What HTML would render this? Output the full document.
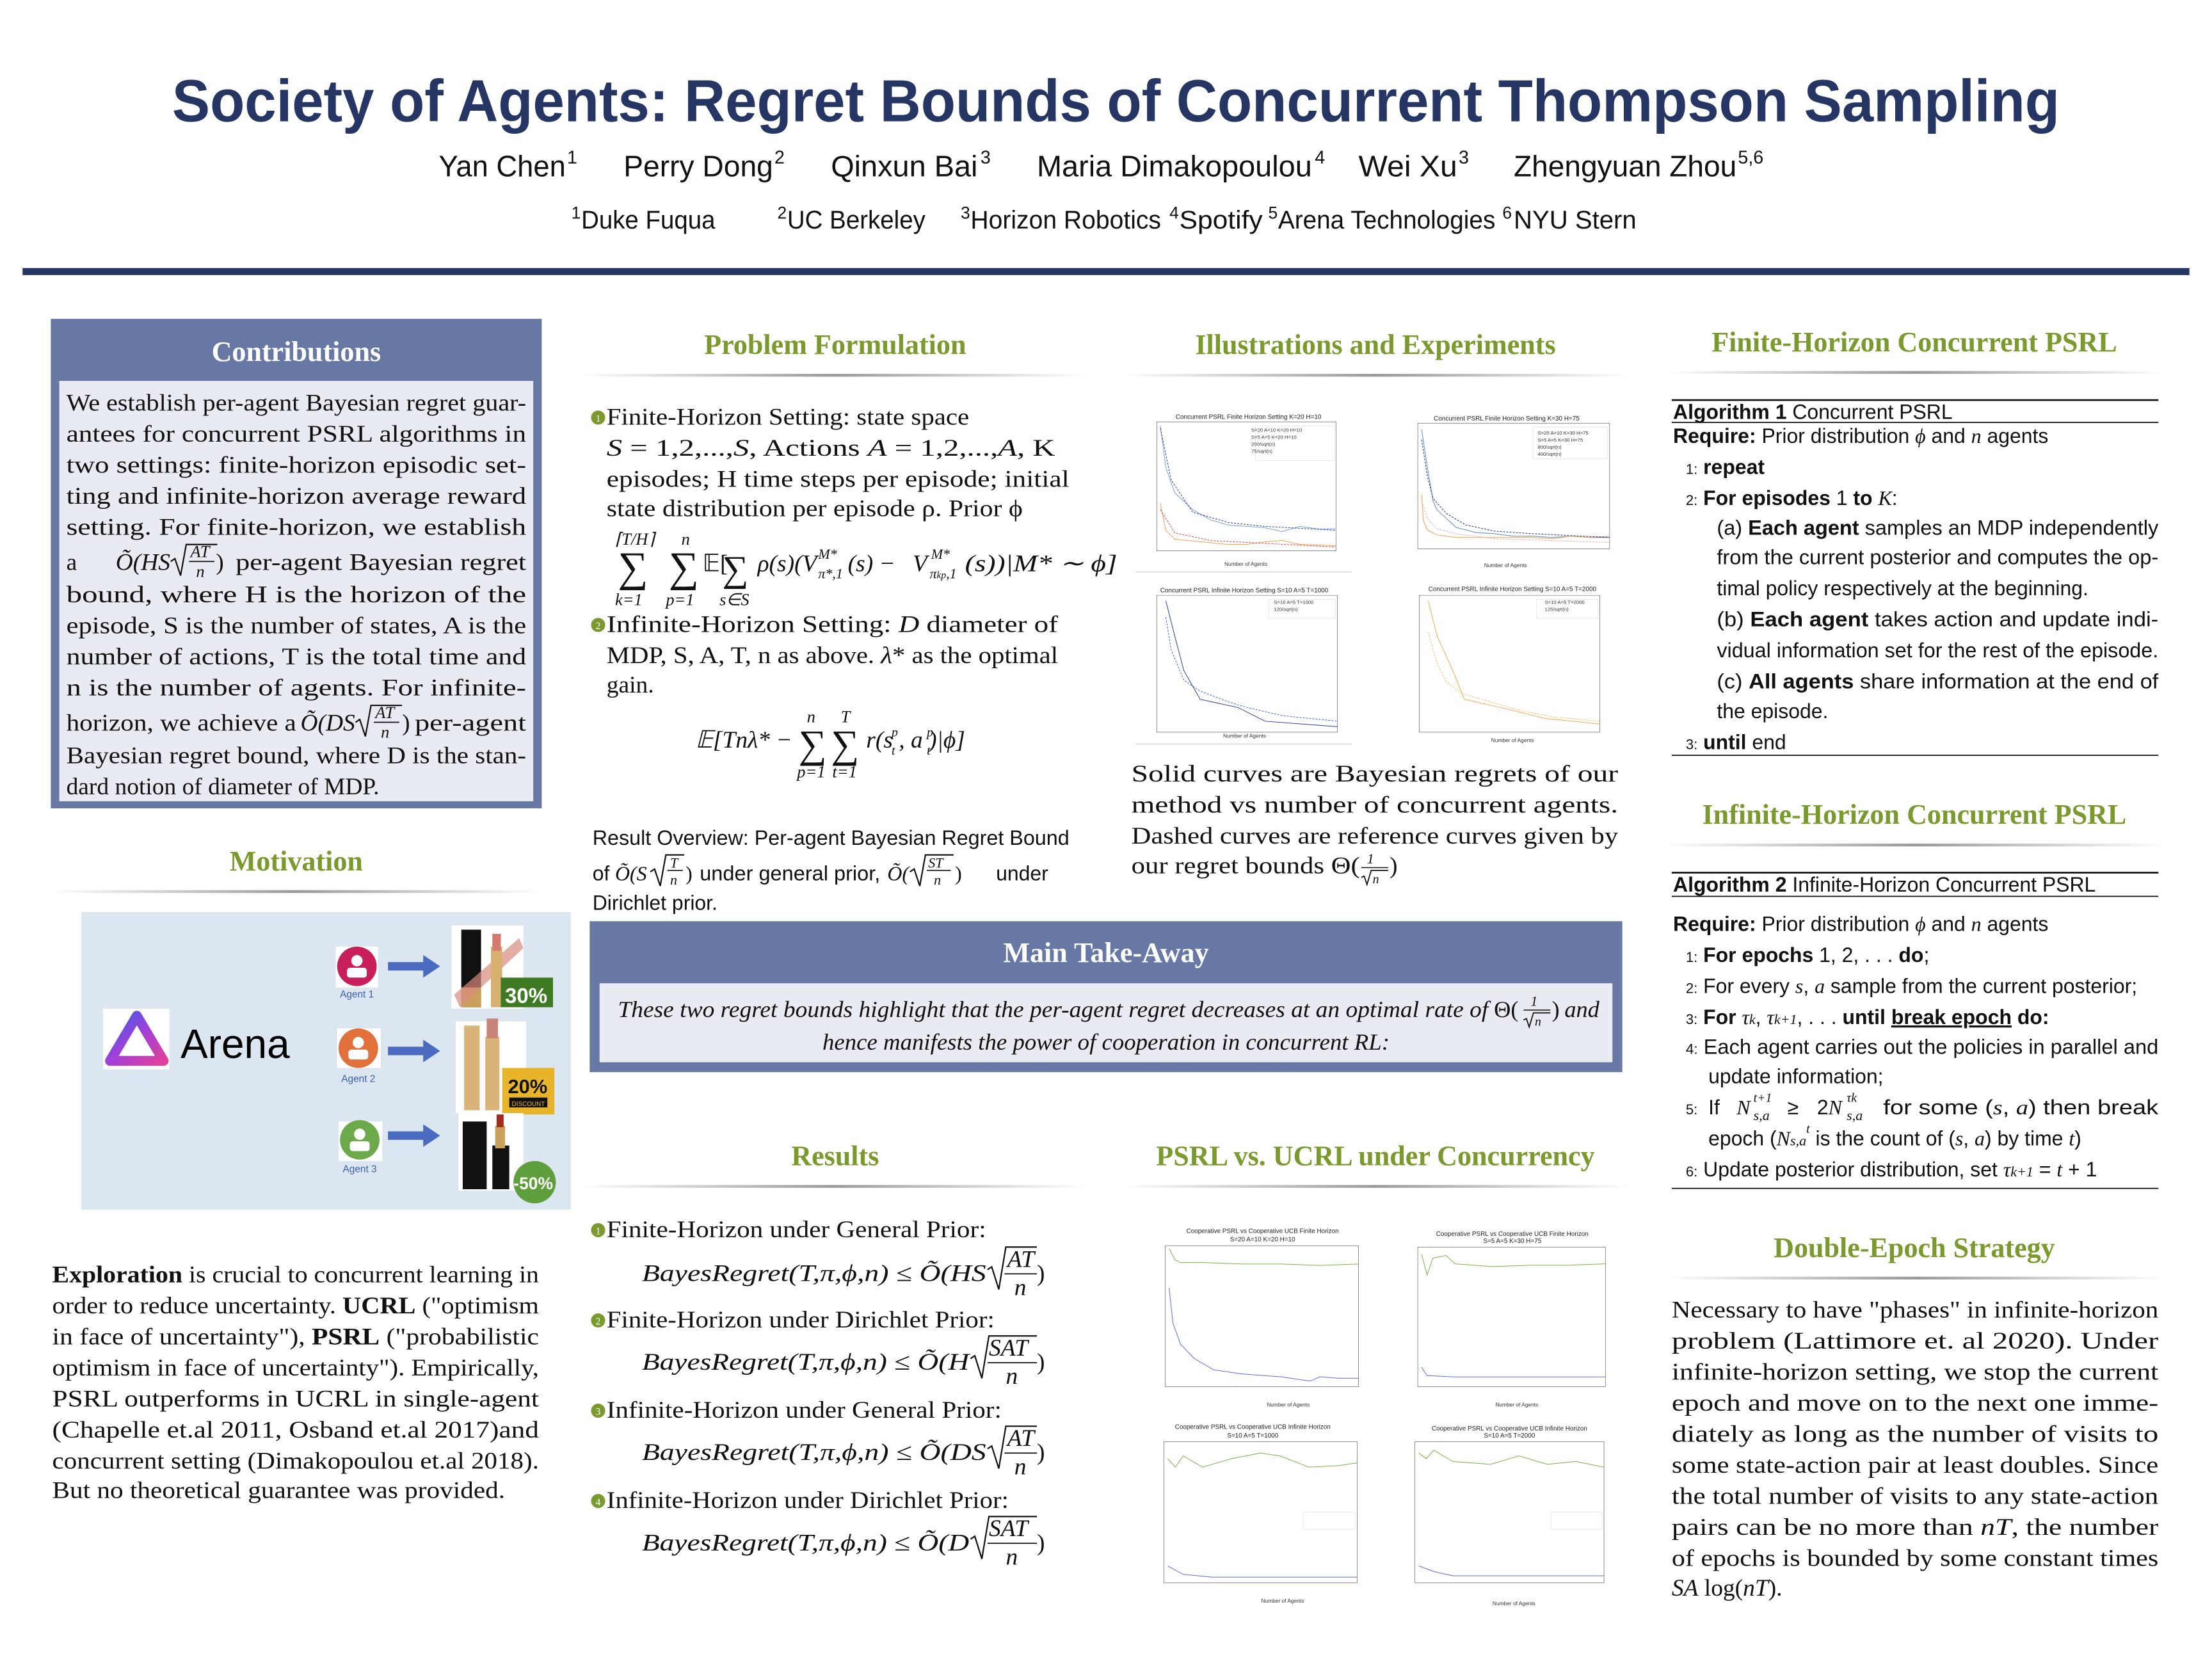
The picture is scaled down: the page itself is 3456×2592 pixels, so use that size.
<!DOCTYPE html>
<html><head><meta charset="utf-8"><style>
html,body{margin:0;padding:0;background:#fff}
svg{display:block}
.se{font-family:"Liberation Serif",serif;fill:#111}
.sa{font-family:"Liberation Sans","DejaVu Sans",sans-serif;fill:#111}
.h{font-family:"Liberation Serif",serif;font-weight:bold;fill:#7a9a2e;font-size:20px}
.w{font-family:"Liberation Serif",serif;font-weight:bold;fill:#fff;font-size:20px}
.ln{vector-effect:non-scaling-stroke;fill:none}
</style></head><body>
<svg width="3456" height="2592" viewBox="0 0 1568 1176" xmlns="http://www.w3.org/2000/svg">
<defs>
<linearGradient id="hl" x1="0" x2="1" y1="0" y2="0">
<stop offset="0" stop-color="#fff"/><stop offset="0.5" stop-color="#999"/><stop offset="1" stop-color="#fff"/></linearGradient>
<linearGradient id="ar" x1="0" x2="1" y1="0" y2="1">
<stop offset="0" stop-color="#3a5ee8"/><stop offset="0.5" stop-color="#a23fd8"/><stop offset="1" stop-color="#e0409a"/></linearGradient>
</defs>

<!-- Header -->
<text x="122" y="86" textLength="1338" lengthAdjust="spacingAndGlyphs" font-family="Liberation Sans, sans-serif" font-weight="bold" font-size="42" fill="#253564">Society of Agents: Regret Bounds of Concurrent Thompson Sampling</text>
<g class="sa" font-size="21">
<text x="311" y="125" textLength="90" lengthAdjust="spacingAndGlyphs">Yan Chen</text><text x="402" y="116" font-size="13">1</text>
<text x="442" y="125" textLength="106" lengthAdjust="spacingAndGlyphs">Perry Dong</text><text x="549" y="116" font-size="13">2</text>
<text x="589" y="125" textLength="104" lengthAdjust="spacingAndGlyphs">Qinxun Bai</text><text x="695" y="116" font-size="13">3</text>
<text x="735" y="125" textLength="195" lengthAdjust="spacingAndGlyphs">Maria Dimakopoulou</text><text x="932" y="116" font-size="13">4</text>
<text x="963" y="125" textLength="70" lengthAdjust="spacingAndGlyphs">Wei Xu</text><text x="1034" y="116" font-size="13">3</text>
<text x="1073" y="125" textLength="158" lengthAdjust="spacingAndGlyphs">Zhengyuan Zhou</text><text x="1232" y="116" font-size="13">5,6</text>
</g>
<g class="sa" font-size="18">
<text x="405" y="155" font-size="12">1</text><text x="412" y="162" textLength="95" lengthAdjust="spacingAndGlyphs">Duke Fuqua</text>
<text x="551" y="155" font-size="12">2</text><text x="558" y="162" textLength="98" lengthAdjust="spacingAndGlyphs">UC Berkeley</text>
<text x="681" y="155" font-size="12">3</text><text x="688" y="162" textLength="135" lengthAdjust="spacingAndGlyphs">Horizon Robotics</text>
<text x="829" y="155" font-size="12">4</text><text x="836" y="162" textLength="59" lengthAdjust="spacingAndGlyphs">Spotify</text>
<text x="899" y="155" font-size="12">5</text><text x="906" y="162" textLength="154" lengthAdjust="spacingAndGlyphs">Arena Technologies</text>
<text x="1065" y="155" font-size="12">6</text><text x="1073" y="162" textLength="87" lengthAdjust="spacingAndGlyphs">NYU Stern</text>
</g>
<rect x="16" y="190" width="1536" height="5" fill="#253564"/>

<!-- Contributions -->
<rect x="36" y="226" width="348" height="347" fill="#6878a4"/>
<text x="210" y="256" text-anchor="middle" class="w">Contributions</text>
<rect x="42" y="270" width="336" height="298" fill="#e8ebf2"/>
<g class="se" font-size="17">
<text x="47" y="291" textLength="326" lengthAdjust="spacingAndGlyphs">We establish per-agent Bayesian regret guar-</text>
<text x="47" y="313" textLength="326" lengthAdjust="spacingAndGlyphs">antees for concurrent PSRL algorithms in</text>
<text x="47" y="335" textLength="326" lengthAdjust="spacingAndGlyphs">two settings:  finite-horizon episodic set-</text>
<text x="47" y="357" textLength="326" lengthAdjust="spacingAndGlyphs">ting and infinite-horizon average reward</text>
<text x="47" y="379" textLength="326" lengthAdjust="spacingAndGlyphs">setting.  For finite-horizon, we establish</text>
<text x="47" y="404">a</text>
<text x="82" y="404" font-style="italic">Õ(HS</text>
<path d="M121,398 l3,-2 l4,12 l4,-22 h22" stroke="#111" stroke-width="1" fill="none"/>
<text x="135" y="395" font-size="12" font-style="italic">AT</text>
<line x1="134" y1="398" x2="152" y2="398" stroke="#111" stroke-width="0.8"/>
<text x="139" y="409" font-size="12" font-style="italic">n</text>
<text x="153" y="404">)</text>
<text x="167" y="404" textLength="206" lengthAdjust="spacingAndGlyphs">per-agent  Bayesian  regret</text>
<text x="47" y="427" textLength="326" lengthAdjust="spacingAndGlyphs">bound,  where  H  is  the  horizon  of  the</text>
<text x="47" y="449" textLength="326" lengthAdjust="spacingAndGlyphs">episode, S is the number of states, A is the</text>
<text x="47" y="471" textLength="326" lengthAdjust="spacingAndGlyphs">number of actions, T is the total time and</text>
<text x="47" y="493" textLength="326" lengthAdjust="spacingAndGlyphs">n is the number of agents.  For infinite-</text>
<text x="47" y="518" textLength="163" lengthAdjust="spacingAndGlyphs">horizon, we achieve a</text>
<text x="213" y="518" font-style="italic">Õ(DS</text>
<path d="M252,512 l3,-2 l4,12 l4,-22 h22" stroke="#111" stroke-width="1" fill="none"/>
<text x="266" y="509" font-size="12" font-style="italic">AT</text>
<line x1="265" y1="512" x2="283" y2="512" stroke="#111" stroke-width="0.8"/>
<text x="270" y="523" font-size="12" font-style="italic">n</text>
<text x="285" y="518">)</text>
<text x="294" y="518" textLength="79" lengthAdjust="spacingAndGlyphs">per-agent</text>
<text x="47" y="541" textLength="326" lengthAdjust="spacingAndGlyphs">Bayesian regret bound, where D is the stan-</text>
<text x="47" y="563">dard notion of diameter of MDP.</text>
</g>

<!-- Motivation -->
<text x="210" y="617" text-anchor="middle" class="h">Motivation</text>
<rect x="36" y="631" width="348" height="2" fill="url(#hl)"/>
<rect x="57.6" y="646.5" width="347" height="211" fill="#dce6f0"/>
<rect x="73" y="715" width="47" height="43" fill="#fff"/>
<path d="M97,720 L116,752 L78,752 Z" fill="none" stroke="url(#ar)" stroke-width="7" stroke-linejoin="round"/>
<text x="128" y="750" font-family="Liberation Sans, sans-serif" font-size="29" fill="#000">Arena</text>
<g>
<rect x="238" y="671" width="30" height="29" fill="#fff"/><circle cx="253" cy="685" r="14" fill="#c81e5a"/>
<circle cx="253" cy="681" r="4" fill="#fff"/><rect x="246" y="686" width="14" height="7" rx="2" fill="#fff"/>
<text x="253" y="707" text-anchor="middle" font-family="Liberation Sans,sans-serif" font-size="7" fill="#3a5fb0">Agent 1</text>
<path d="M275,682 h25 v-5 l12,8 l-12,8 v-5 h-25z" fill="#4a6bbf"/>
<rect x="239" y="729" width="31" height="28" fill="#fff"/><circle cx="254" cy="743" r="14" fill="#e2703a"/>
<circle cx="254" cy="739" r="4" fill="#fff"/><rect x="247" y="744" width="14" height="7" rx="2" fill="#fff"/>
<text x="254" y="767" text-anchor="middle" font-family="Liberation Sans,sans-serif" font-size="7" fill="#3a5fb0">Agent 2</text>
<path d="M275,742 h25 v-5 l12,8 l-12,8 v-5 h-25z" fill="#4a6bbf"/>
<rect x="240" y="795" width="31" height="28" fill="#fff"/><circle cx="255" cy="808" r="14" fill="#6ca94a"/>
<circle cx="255" cy="804" r="4" fill="#fff"/><rect x="248" y="809" width="14" height="7" rx="2" fill="#fff"/>
<text x="255" y="831" text-anchor="middle" font-family="Liberation Sans,sans-serif" font-size="7" fill="#3a5fb0">Agent 3</text>
<path d="M275,802 h25 v-5 l12,8 l-12,8 v-5 h-25z" fill="#4a6bbf"/>
<rect x="320" y="656" width="51" height="59" fill="#fff"/>
<rect x="327" y="659" width="14" height="55" fill="#111"/><rect x="327" y="700" width="14" height="14" fill="#c9a15a"/>
<path d="M322,705 L368,665 L371,672 L326,714Z" fill="#d88a7e" opacity="0.7"/>
<rect x="348" y="671" width="8" height="43" fill="#d8b070"/><rect x="349" y="662" width="6" height="12" fill="#d57a6c"/>
<rect x="355" y="693" width="37" height="21" fill="#3d7a22"/>
<text x="373" y="711" text-anchor="middle" font-family="Liberation Sans,sans-serif" font-weight="bold" font-size="15" fill="#fff">30%</text>
<rect x="323" y="724" width="50" height="65" fill="#fff"/>
<rect x="329" y="727" width="11" height="60" fill="#d9b47a"/><rect x="344" y="735" width="10" height="52" fill="#d9b47a"/><rect x="345" y="722" width="8" height="14" fill="#c98378"/>
<rect x="356" y="757" width="37" height="33" fill="#e8b52a"/>
<text x="374" y="775" text-anchor="middle" font-family="Liberation Sans,sans-serif" font-weight="bold" font-size="14" fill="#111">20%</text>
<rect x="361" y="778" width="27" height="7" fill="#111"/>
<text x="374.5" y="784" text-anchor="middle" font-family="Liberation Sans,sans-serif" font-size="4.5" fill="#e8b52a">DISCOUNT</text>
<rect x="325" y="789" width="46" height="55" fill="#fff"/>
<rect x="328" y="795" width="17" height="48" fill="#111"/><rect x="349" y="812" width="12" height="31" fill="#111"/><rect x="351" y="798" width="7" height="16" fill="#c9a15a"/><rect x="352" y="790" width="5" height="9" fill="#a22a1e"/>
<circle cx="379" cy="838" r="15" fill="#5e9e3c"/>
<text x="378" y="843" text-anchor="middle" font-family="Liberation Sans,sans-serif" font-weight="bold" font-size="12" fill="#fff">-50%</text>
</g>
<g class="se" font-size="17">
<text x="37" y="909" textLength="345" lengthAdjust="spacingAndGlyphs"><tspan font-weight="bold">Exploration</tspan> is crucial to concurrent learning in</text>
<text x="37" y="931" textLength="345" lengthAdjust="spacingAndGlyphs">order to reduce uncertainty. <tspan font-weight="bold">UCRL</tspan> ("optimism</text>
<text x="37" y="953" textLength="345" lengthAdjust="spacingAndGlyphs">in face of uncertainty"), <tspan font-weight="bold">PSRL</tspan> ("probabilistic</text>
<text x="37" y="975" textLength="345" lengthAdjust="spacingAndGlyphs">optimism in face of uncertainty"). Empirically,</text>
<text x="37" y="997" textLength="345" lengthAdjust="spacingAndGlyphs">PSRL outperforms in UCRL in single-agent</text>
<text x="37" y="1019" textLength="345" lengthAdjust="spacingAndGlyphs">(Chapelle et.al 2011, Osband et.al 2017)and</text>
<text x="37" y="1041" textLength="345" lengthAdjust="spacingAndGlyphs">concurrent setting (Dimakopoulou et.al 2018).</text>
<text x="37" y="1062" textLength="321" lengthAdjust="spacingAndGlyphs">But no theoretical guarantee was provided.</text>
</g>

<!-- Problem Formulation -->
<text x="592" y="251" text-anchor="middle" class="h">Problem Formulation</text>
<rect x="410" y="265" width="360" height="2" fill="url(#hl)"/>
<g class="se" font-size="17">
<circle cx="424" cy="296" r="5" fill="#7a9a2e"/><text x="424" y="299" text-anchor="middle" font-size="7" fill="#fff" style="fill:#fff">1</text>
<text x="430" y="301" textLength="257" lengthAdjust="spacingAndGlyphs">Finite-Horizon Setting: state space</text>
<text x="430" y="323" textLength="318" lengthAdjust="spacingAndGlyphs"><tspan font-style="italic">S</tspan> = 1,2,...,<tspan font-style="italic">S</tspan>, Actions <tspan font-style="italic">A</tspan> = 1,2,...,<tspan font-style="italic">A</tspan>, K</text>
<text x="430" y="345" textLength="328" lengthAdjust="spacingAndGlyphs">episodes; H time steps per episode; initial</text>
<text x="430" y="366" textLength="295" lengthAdjust="spacingAndGlyphs">state distribution per episode ρ. Prior ϕ</text>
<text x="436" y="386" font-size="12" font-style="italic">⌈T/H⌉</text>
<text x="483" y="386" font-size="12" font-style="italic">n</text>
<text x="438" y="412" font-size="30">∑</text><text x="474" y="412" font-size="30">∑</text>
<text x="436" y="429" font-size="12" font-style="italic">k=1</text><text x="472" y="429" font-size="12" font-style="italic">p=1</text>
<text x="498" y="405">𝔼[</text>
<text x="512" y="412" font-size="26">∑</text>
<text x="510" y="429" font-size="12" font-style="italic">s∈S</text>
<text x="537" y="405" font-style="italic">ρ(s)(V</text>
<text x="580" y="396" font-size="10" font-style="italic">M*</text><text x="580" y="410" font-size="10" font-style="italic">π*,1</text>
<text x="601" y="405" font-style="italic">(s) −</text>
<text x="647" y="405" font-style="italic">V</text>
<text x="660" y="396" font-size="10" font-style="italic">M*</text><text x="659" y="410" font-size="10" font-style="italic">π<tspan font-size="7">kp</tspan>,1</text>
<text x="684" y="405" font-style="italic" textLength="108" lengthAdjust="spacingAndGlyphs">(s))|M* ∼ ϕ]</text>
<circle cx="424" cy="443" r="5" fill="#7a9a2e"/><text x="424" y="446" text-anchor="middle" font-size="7" style="fill:#fff">2</text>
<text x="430" y="448" textLength="320" lengthAdjust="spacingAndGlyphs">Infinite-Horizon Setting: <tspan font-style="italic">D</tspan> diameter of</text>
<text x="430" y="470" textLength="320" lengthAdjust="spacingAndGlyphs">MDP, S, A, T, n as above. <tspan font-style="italic">λ</tspan>* as the optimal</text>
<text x="430" y="491">gain.</text>
<text x="493" y="530" font-style="italic">𝔼[Tnλ* −</text>
<text x="566" y="537" font-size="28">∑</text><text x="589" y="537" font-size="28">∑</text>
<text x="572" y="512" font-size="12" font-style="italic">n</text><text x="596" y="512" font-size="12" font-style="italic">T</text>
<text x="565" y="551" font-size="12" font-style="italic">p=1</text><text x="590" y="551" font-size="12" font-style="italic">t=1</text>
<text x="614" y="530" font-style="italic">r(s  , a  )|ϕ]</text>
<text x="632" y="522" font-size="9" font-style="italic">p</text><text x="632" y="535" font-size="9" font-style="italic">t</text>
<text x="657" y="522" font-size="9" font-style="italic">p</text><text x="657" y="535" font-size="9" font-style="italic">t</text>
</g>
<g class="sa" font-size="14.5">
<text x="420" y="599" textLength="338" lengthAdjust="spacingAndGlyphs">Result Overview: Per-agent Bayesian Regret Bound</text>
<text x="420" y="624">of</text>
<text x="436" y="624" class="se" font-style="italic">Õ(S</text>
<path d="M461,618 l3,-2 l4,12 l4,-22 h13" stroke="#111" stroke-width="1" fill="none"/>
<text x="475" y="615" font-size="10" class="se" font-style="italic">T</text><line x1="473" y1="617" x2="484" y2="617" stroke="#111" stroke-width="0.7"/><text x="475" y="627" font-size="10" class="se" font-style="italic">n</text>
<text x="486" y="624" class="se">)</text>
<text x="496" y="624" textLength="128" lengthAdjust="spacingAndGlyphs">under general prior,</text>
<text x="629" y="624" class="se" font-style="italic">Õ(</text>
<path d="M645,618 l3,-2 l4,12 l4,-22 h20" stroke="#111" stroke-width="1" fill="none"/>
<text x="658" y="615" font-size="10" class="se" font-style="italic">ST</text><line x1="657" y1="617" x2="674" y2="617" stroke="#111" stroke-width="0.7"/><text x="662" y="627" font-size="10" class="se" font-style="italic">n</text>
<text x="677" y="624" class="se">)</text>
<text x="706" y="624">under</text>
<text x="420" y="645">Dirichlet prior.</text>
</g>

<!-- Illustrations -->
<text x="975" y="251" text-anchor="middle" class="h">Illustrations and Experiments</text>
<rect x="795" y="265" width="360" height="2" fill="url(#hl)"/>

<g font-family="Liberation Sans,sans-serif">
<text x="885" y="297" text-anchor="middle" font-size="4.5" fill="#222">Concurrent PSRL Finite Horizon Setting K=20 H=10</text>
<g transform="translate(820,299) scale(1.27,0.915)">
<rect x="0" y="0" width="100" height="100" class="ln" stroke="#444" stroke-width="0.6"/>
<path class="ln" stroke="#7aa3d6" stroke-width="1" d="M2,3 L5,35 L10,55 L20,68 L30,76 L40,80 L60,82 L70,85 L80,81 L90,83 L100,83"/>
<path class="ln" stroke="#f0a050" stroke-width="1" d="M2,63 L5,84 L10,91 L40,95 L50,95 L60,93 L70,92 L80,95 L100,96"/>
<path class="ln" stroke="#2a3aa0" stroke-width="1" stroke-dasharray="3,2" d="M2,5 L8,45 L20,70 L40,78 L60,81 L100,84"/>
<path class="ln" stroke="#e04040" stroke-width="1" stroke-dasharray="3,2" d="M2,68 L10,86 L30,92 L100,97"/>
<rect x="55" y="3" width="44" height="27" class="ln" fill="#fff" stroke="#ccc" stroke-width="0.4"/>
</g>
<text x="887" y="306" font-size="3.5" fill="#333">S=20 A=10 K=20 H=10</text><text x="887" y="311" font-size="3.5" fill="#333">S=5 A=5 K=20 H=10</text><text x="887" y="316" font-size="3.5" fill="#333">200/sqrt(n)</text><text x="887" y="321" font-size="3.5" fill="#333">75/sqrt(n)</text>
<text x="868" y="401" font-size="3.8" fill="#333">Number of Agents</text>

<text x="1068" y="298" text-anchor="middle" font-size="4.5" fill="#222">Concurrent PSRL Finite Horizon Setting K=30 H=75</text>
<g transform="translate(1005,300) scale(1.36,0.89)">
<rect x="0" y="0" width="100" height="100" class="ln" stroke="#444" stroke-width="0.6"/>
<path class="ln" stroke="#5a86c8" stroke-width="1" d="M2,5 L5,35 L8,62 L10,69 L15,76 L20,83 L30,87 L40,88 L50,90 L60,90 L70,91 L80,90 L90,91 L100,91"/>
<path class="ln" stroke="#f0a050" stroke-width="1" d="M2,57 L3,78 L5,85 L10,89 L20,91 L60,91 L70,92 L80,90 L90,91 L100,90"/>
<path class="ln" stroke="#1a2a90" stroke-width="1" stroke-dasharray="3,2" d="M2,13 L5,42 L8,60 L15,72 L25,81 L40,86 L60,88 L100,91"/>
<path class="ln" stroke="#f0a8a0" stroke-width="1" stroke-dasharray="3,2" d="M2,62 L5,76 L10,84 L20,88 L40,92 L100,95"/>
<rect x="60" y="3" width="39" height="25" class="ln" fill="#fff" stroke="#ccc" stroke-width="0.4"/>
</g>
<text x="1090" y="308" font-size="3.5" fill="#333">S=20 A=10 K=30 H=75</text><text x="1090" y="313" font-size="3.5" fill="#333">S=5 A=5 K=30 H=75</text><text x="1090" y="318" font-size="3.5" fill="#333">800/sqrt(n)</text><text x="1090" y="323" font-size="3.5" fill="#333">400/sqrt(n)</text>
<text x="1052" y="402" font-size="3.8" fill="#333">Number of Agents</text>
<rect x="805" y="405" width="153" height="0.8" fill="#ddd"/>

<text x="882" y="420" text-anchor="middle" font-size="4.5" fill="#222">Concurrent PSRL Infinite Horizon Setting S=10 A=5 T=1000</text>
<g transform="translate(820,422) scale(1.28,0.97)">
<rect x="0" y="0" width="100" height="100" class="ln" stroke="#444" stroke-width="0.6"/>
<path class="ln" stroke="#2a3a9a" stroke-width="1" d="M5,4 L10,30 L15,55 L24,76 L45,82 L60,92 L100,96"/>
<path class="ln" stroke="#4060f0" stroke-width="1" stroke-dasharray="3,2" d="M5,16 L8,40 L15,62 L24,70 L40,78 L50,82 L70,88 L100,92"/>
<rect x="62" y="3" width="37" height="14" class="ln" fill="#fff" stroke="#ccc" stroke-width="0.4"/>
</g>
<text x="903" y="428" font-size="3.5" fill="#333">S=10 A=5 T=1000</text><text x="903" y="433" font-size="3.5" fill="#333">120/sqrt(n)</text>
<text x="867" y="523" font-size="3.8" fill="#333">Number of Agents</text>

<text x="1072" y="419" text-anchor="middle" font-size="4.5" fill="#222">Concurrent PSRL Infinite Horizon Setting S=10 A=5 T=2000</text>
<g transform="translate(1006,422) scale(1.28,0.97)">
<rect x="0" y="0" width="100" height="100" class="ln" stroke="#444" stroke-width="0.6"/>
<path class="ln" stroke="#f0a850" stroke-width="1" d="M5,4 L10,30 L18,53 L25,76 L45,82 L70,90 L100,94"/>
<path class="ln" stroke="#f0c060" stroke-width="1" stroke-dasharray="3,2" d="M5,27 L10,50 L15,63 L24,72 L40,78 L55,84 L75,89 L100,92"/>
<rect x="65" y="3" width="34" height="14" class="ln" fill="#fff" stroke="#ccc" stroke-width="0.4"/>
</g>
<text x="1095" y="428" font-size="3.5" fill="#333">S=10 A=5 T=2000</text><text x="1095" y="433" font-size="3.5" fill="#333">125/sqrt(n)</text>
<text x="1057" y="526" font-size="3.8" fill="#333">Number of Agents</text>
<rect x="805" y="527" width="153" height="0.8" fill="#ddd"/>
</g>

<g class="se" font-size="17">
<text x="802" y="554" textLength="345" lengthAdjust="spacingAndGlyphs">Solid  curves  are  Bayesian  regrets  of  our</text>
<text x="802" y="576" textLength="345" lengthAdjust="spacingAndGlyphs">method  vs  number  of  concurrent  agents.</text>
<text x="802" y="598" textLength="345" lengthAdjust="spacingAndGlyphs">Dashed curves are reference curves given by</text>
<text x="802" y="619" textLength="162" lengthAdjust="spacingAndGlyphs">our regret bounds Θ(</text>
<text x="969" y="612" font-size="10" font-style="italic">1</text><line x1="965" y1="615" x2="984" y2="615" stroke="#111" stroke-width="0.7"/>
<path d="M965,622 l2,-1 l2,6 l3,-10 h12" stroke="#111" stroke-width="0.8" fill="none"/><text x="973" y="626" font-size="9" font-style="italic">n</text>
<text x="985" y="619">)</text>
</g>

<!-- Main Take-Away -->
<rect x="418" y="653" width="732" height="107" fill="#6878a4"/>
<text x="784" y="682" text-anchor="middle" class="w">Main Take-Away</text>
<rect x="425" y="697" width="718" height="56" fill="#e8ebf2"/>
<g class="se" font-size="16.5" font-style="italic">
<text x="438" y="721" textLength="617" lengthAdjust="spacingAndGlyphs">These two regret bounds highlight that the per-agent regret decreases at an optimal rate of</text>
<text x="1059" y="721" font-style="normal">Θ(</text>
<text x="1085" y="713" font-size="10">1</text><line x1="1080" y1="716" x2="1099" y2="716" stroke="#111" stroke-width="0.7"/>
<path d="M1080,723 l2,-1 l2,6 l3,-10 h12" stroke="#111" stroke-width="0.8" fill="none"/><text x="1088" y="727" font-size="9">n</text>
<text x="1100" y="721" font-style="normal">)</text>
<text x="1109" y="721">and</text>
<text x="784" y="744" text-anchor="middle" textLength="402" lengthAdjust="spacingAndGlyphs">hence manifests the power of cooperation in concurrent RL:</text>
</g>

<!-- Results -->
<text x="592" y="826" text-anchor="middle" class="h">Results</text>
<rect x="410" y="840" width="360" height="2" fill="url(#hl)"/>
<g class="se" font-size="17">
<circle cx="424" cy="872" r="5" fill="#7a9a2e"/><text x="424" y="875" text-anchor="middle" font-size="7" style="fill:#fff">1</text>
<text x="430" y="877" textLength="269" lengthAdjust="spacingAndGlyphs">Finite-Horizon under General Prior:</text>
<text x="455" y="908" font-style="italic" textLength="244" lengthAdjust="spacingAndGlyphs">BayesRegret(T,π,ϕ,n) ≤ Õ(HS</text>
<path d="M700,900 l3,-2 l5,16 l5,-30 h22" stroke="#111" stroke-width="1" fill="none"/>
<text x="714" y="898" font-style="italic">AT</text><line x1="712" y1="903" x2="735" y2="903" stroke="#111" stroke-width="0.8"/><text x="719" y="918" font-style="italic">n</text>
<text x="735" y="908">)</text>

<circle cx="424" cy="936" r="5" fill="#7a9a2e"/><text x="424" y="939" text-anchor="middle" font-size="7" style="fill:#fff">2</text>
<text x="430" y="941" textLength="275" lengthAdjust="spacingAndGlyphs">Finite-Horizon under Dirichlet Prior:</text>
<text x="455" y="971" font-style="italic" textLength="232" lengthAdjust="spacingAndGlyphs">BayesRegret(T,π,ϕ,n) ≤ Õ(H</text>
<path d="M688,963 l3,-2 l5,16 l5,-30 h34" stroke="#111" stroke-width="1" fill="none"/>
<text x="701" y="961" font-style="italic">SAT</text><line x1="700" y1="966" x2="735" y2="966" stroke="#111" stroke-width="0.8"/><text x="713" y="981" font-style="italic">n</text>
<text x="735" y="971">)</text>

<circle cx="424" cy="1000" r="5" fill="#7a9a2e"/><text x="424" y="1003" text-anchor="middle" font-size="7" style="fill:#fff">3</text>
<text x="430" y="1005" textLength="280" lengthAdjust="spacingAndGlyphs">Infinite-Horizon under General Prior:</text>
<text x="455" y="1035" font-style="italic" textLength="244" lengthAdjust="spacingAndGlyphs">BayesRegret(T,π,ϕ,n) ≤ Õ(DS</text>
<path d="M700,1027 l3,-2 l5,16 l5,-30 h22" stroke="#111" stroke-width="1" fill="none"/>
<text x="714" y="1025" font-style="italic">AT</text><line x1="712" y1="1030" x2="735" y2="1030" stroke="#111" stroke-width="0.8"/><text x="719" y="1045" font-style="italic">n</text>
<text x="735" y="1035">)</text>

<circle cx="424" cy="1064" r="5" fill="#7a9a2e"/><text x="424" y="1067" text-anchor="middle" font-size="7" style="fill:#fff">4</text>
<text x="430" y="1069" textLength="285" lengthAdjust="spacingAndGlyphs">Infinite-Horizon under Dirichlet Prior:</text>
<text x="455" y="1099" font-style="italic" textLength="232" lengthAdjust="spacingAndGlyphs">BayesRegret(T,π,ϕ,n) ≤ Õ(D</text>
<path d="M688,1091 l3,-2 l5,16 l5,-30 h34" stroke="#111" stroke-width="1" fill="none"/>
<text x="701" y="1089" font-style="italic">SAT</text><line x1="700" y1="1094" x2="735" y2="1094" stroke="#111" stroke-width="0.8"/><text x="713" y="1109" font-style="italic">n</text>
<text x="735" y="1099">)</text>
</g>

<!-- PSRL vs UCRL -->
<text x="975" y="826" text-anchor="middle" class="h">PSRL vs. UCRL under Concurrency</text>
<rect x="795" y="840" width="360" height="2" fill="url(#hl)"/>
<g font-family="Liberation Sans,sans-serif">
<text x="895" y="874" text-anchor="middle" font-size="4.5" fill="#222">Cooperative PSRL vs Cooperative UCB Finite Horizon</text>
<text x="895" y="880" text-anchor="middle" font-size="4.5" fill="#222">S=20 A=10 K=20 H=10</text>
<g transform="translate(826,883) scale(1.37,1.0)">
<rect x="0" y="0" width="100" height="100" class="ln" stroke="#444" stroke-width="0.6"/>
<path class="ln" stroke="#7ab04a" stroke-width="1" d="M2,2 L5,10 L8,12 L20,12 L40,13 L60,13 L80,14 L100,13"/>
<path class="ln" stroke="#5a6ae8" stroke-width="1" d="M2,30 L4,55 L8,70 L15,80 L25,88 L40,91 L60,93 L75,96 L80,93 L90,94 L100,94"/>
</g>
<text x="898" y="997" font-size="3.8" fill="#333">Number of Agents</text>

<text x="1072" y="876" text-anchor="middle" font-size="4.5" fill="#222">Cooperative PSRL vs Cooperative UCB Finite Horizon</text>
<text x="1072" y="881" text-anchor="middle" font-size="4.5" fill="#222">S=5 A=5 K=30 H=75</text>
<g transform="translate(1005,884) scale(1.33,0.99)">
<rect x="0" y="0" width="100" height="100" class="ln" stroke="#444" stroke-width="0.6"/>
<path class="ln" stroke="#7ab04a" stroke-width="1" d="M2,5 L5,20 L8,8 L15,6 L20,12 L40,14 L60,13 L80,13 L100,12"/>
<path class="ln" stroke="#5a6ae8" stroke-width="1" d="M2,86 L5,92 L20,93 L60,93 L100,93"/>
</g>
<text x="1060" y="997" font-size="3.8" fill="#333">Number of Agents</text>

<text x="888" y="1013" text-anchor="middle" font-size="4.5" fill="#222">Cooperative PSRL vs Cooperative UCB Infinite Horizon</text>
<text x="888" y="1019" text-anchor="middle" font-size="4.5" fill="#222">S=10 A=5 T=1000</text>
<g transform="translate(825,1022) scale(1.37,1.0)">
<rect x="0" y="0" width="100" height="100" class="ln" stroke="#444" stroke-width="0.6"/>
<path class="ln" stroke="#7ab04a" stroke-width="1" d="M2,12 L6,18 L10,10 L20,18 L35,12 L50,8 L60,10 L75,18 L90,17 L100,15"/>
<path class="ln" stroke="#5a6ae8" stroke-width="1" d="M2,88 L10,94 L25,96 L100,96"/>
<rect x="72" y="50" width="27" height="12" class="ln" fill="#fff" stroke="#ccc" stroke-width="0.4"/>
</g>
<text x="894" y="1136" font-size="3.8" fill="#333">Number of Agents</text>

<text x="1070" y="1014" text-anchor="middle" font-size="4.5" fill="#222">Cooperative PSRL vs Cooperative UCB Infinite Horizon</text>
<text x="1070" y="1019" text-anchor="middle" font-size="4.5" fill="#222">S=10 A=5 T=2000</text>
<g transform="translate(1003,1022) scale(1.34,1.0)">
<rect x="0" y="0" width="100" height="100" class="ln" stroke="#444" stroke-width="0.6"/>
<path class="ln" stroke="#7ab04a" stroke-width="1" d="M2,8 L6,12 L10,6 L20,14 L40,16 L55,10 L70,16 L85,14 L100,18"/>
<path class="ln" stroke="#5a6ae8" stroke-width="1" d="M2,88 L10,92 L20,95 L100,95"/>
<rect x="72" y="50" width="27" height="12" class="ln" fill="#fff" stroke="#ccc" stroke-width="0.4"/>
</g>
<text x="1058" y="1138" font-size="3.8" fill="#333">Number of Agents</text>
</g>

<!-- Column 4 -->
<text x="1357" y="249" text-anchor="middle" class="h">Finite-Horizon Concurrent PSRL</text>
<rect x="1180" y="263" width="355" height="2" fill="url(#hl)"/>
<rect x="1185" y="283" width="345" height="1.2" fill="#111"/>
<rect x="1185" y="299" width="345" height="0.8" fill="#111"/>
<rect x="1185" y="535" width="345" height="0.8" fill="#111"/>
<g class="sa" font-size="14.5">
<text x="1186" y="297"><tspan font-weight="bold">Algorithm 1</tspan> Concurrent PSRL</text>
<text x="1186" y="314"><tspan font-weight="bold">Require:</tspan>  Prior distribution <tspan class="se" font-style="italic">ϕ</tspan> and <tspan class="se" font-style="italic">n</tspan> agents</text>
<text x="1195" y="336"><tspan font-size="10">1:</tspan>  <tspan font-weight="bold">repeat</tspan></text>
<text x="1195" y="358"><tspan font-size="10">2:</tspan>    <tspan font-weight="bold">For</tspan> <tspan font-weight="bold">episodes</tspan> 1 <tspan font-weight="bold">to</tspan> <tspan class="se" font-style="italic">K</tspan>:</text>
<text x="1217" y="379" textLength="313" lengthAdjust="spacingAndGlyphs">(a) <tspan font-weight="bold">Each agent</tspan> samples an MDP independently</text>
<text x="1217" y="400" textLength="313" lengthAdjust="spacingAndGlyphs">from the current posterior and computes the op-</text>
<text x="1217" y="422">timal policy respectively at the beginning.</text>
<text x="1217" y="444" textLength="313" lengthAdjust="spacingAndGlyphs">(b) <tspan font-weight="bold">Each agent</tspan> takes action and update indi-</text>
<text x="1217" y="466" textLength="313" lengthAdjust="spacingAndGlyphs">vidual information set for the rest of the episode.</text>
<text x="1217" y="488" textLength="313" lengthAdjust="spacingAndGlyphs">(c) <tspan font-weight="bold">All agents</tspan> share information at the end of</text>
<text x="1217" y="509">the episode.</text>
<text x="1195" y="531"><tspan font-size="10">3:</tspan>  <tspan font-weight="bold">until</tspan> end</text>
</g>

<text x="1357" y="584" text-anchor="middle" class="h">Infinite-Horizon Concurrent PSRL</text>
<rect x="1180" y="598" width="355" height="2" fill="url(#hl)"/>
<rect x="1185" y="618" width="345" height="1.2" fill="#111"/>
<rect x="1185" y="635" width="345" height="0.8" fill="#111"/>
<rect x="1185" y="842" width="345" height="0.8" fill="#111"/>
<g class="sa" font-size="14.5">
<text x="1186" y="632"><tspan font-weight="bold">Algorithm 2</tspan> Infinite-Horizon Concurrent PSRL</text>
<text x="1186" y="660"><tspan font-weight="bold">Require:</tspan>  Prior distribution <tspan class="se" font-style="italic">ϕ</tspan> and <tspan class="se" font-style="italic">n</tspan> agents</text>
<text x="1195" y="682"><tspan font-size="10">1:</tspan>  <tspan font-weight="bold">For epochs</tspan> 1, 2, . . . <tspan font-weight="bold">do</tspan>;</text>
<text x="1195" y="704"><tspan font-size="10">2:</tspan>  For every <tspan class="se" font-style="italic">s</tspan>, <tspan class="se" font-style="italic">a</tspan> sample from the current posterior;</text>
<text x="1195" y="726"><tspan font-size="10">3:</tspan>  <tspan font-weight="bold">For</tspan> <tspan class="se" font-style="italic">τ</tspan><tspan class="se" font-style="italic" font-size="10">k</tspan>, <tspan class="se" font-style="italic">τ</tspan><tspan class="se" font-style="italic" font-size="10">k+1</tspan>, . . . <tspan font-weight="bold">until</tspan> <tspan font-weight="bold" text-decoration="underline">break epoch</tspan> <tspan font-weight="bold">do:</tspan></text>
<text x="1195" y="747" textLength="335" lengthAdjust="spacingAndGlyphs"><tspan font-size="10">4:</tspan>  Each agent carries out the policies in parallel and</text>
<text x="1211" y="768">update information;</text>
<text x="1195" y="790"><tspan font-size="10">5:</tspan></text>
<text x="1211" y="790">If</text>
<text x="1231" y="790" class="se" font-style="italic">N</text><text x="1243" y="794" class="se" font-style="italic" font-size="10">s,a</text><text x="1243" y="781" class="se" font-style="italic" font-size="9">t+1</text>
<text x="1267" y="790">≥</text>
<text x="1288" y="790">2<tspan class="se" font-style="italic">N</tspan></text><text x="1309" y="794" class="se" font-style="italic" font-size="10">s,a</text><text x="1309" y="781" class="se" font-style="italic" font-size="9">τk</text>
<text x="1335" y="790" textLength="195" lengthAdjust="spacingAndGlyphs">for  some  (<tspan class="se" font-style="italic">s</tspan>, <tspan class="se" font-style="italic">a</tspan>)  then  break</text>
<text x="1211" y="812">epoch (<tspan class="se" font-style="italic">N</tspan><tspan font-size="10" class="se" font-style="italic">s,a</tspan><tspan dy="-9" font-size="9" class="se" font-style="italic">t</tspan><tspan dy="9"> is the count of (</tspan><tspan class="se" font-style="italic">s</tspan>, <tspan class="se" font-style="italic">a</tspan>) by time <tspan class="se" font-style="italic">t</tspan>)</text>
<text x="1195" y="834"><tspan font-size="10">6:</tspan>  Update posterior distribution, set <tspan class="se" font-style="italic">τ</tspan><tspan font-size="10" class="se" font-style="italic">k+1</tspan> = <tspan class="se" font-style="italic">t</tspan> + 1</text>
</g>

<text x="1357" y="891" text-anchor="middle" class="h">Double-Epoch Strategy</text>
<rect x="1180" y="905" width="355" height="2" fill="url(#hl)"/>
<g class="se" font-size="17">
<text x="1185" y="934" textLength="345" lengthAdjust="spacingAndGlyphs">Necessary to have "phases" in infinite-horizon</text>
<text x="1185" y="956" textLength="345" lengthAdjust="spacingAndGlyphs">problem  (Lattimore  et.   al  2020).   Under</text>
<text x="1185" y="978" textLength="345" lengthAdjust="spacingAndGlyphs">infinite-horizon setting, we stop the current</text>
<text x="1185" y="1000" textLength="345" lengthAdjust="spacingAndGlyphs">epoch and move on to the next one imme-</text>
<text x="1185" y="1022" textLength="345" lengthAdjust="spacingAndGlyphs">diately as long as the number of visits to</text>
<text x="1185" y="1044" textLength="345" lengthAdjust="spacingAndGlyphs">some state-action pair at least doubles. Since</text>
<text x="1185" y="1066" textLength="345" lengthAdjust="spacingAndGlyphs">the total number of visits to any state-action</text>
<text x="1185" y="1088" textLength="345" lengthAdjust="spacingAndGlyphs">pairs can be no more than <tspan font-style="italic">nT</tspan>, the number</text>
<text x="1185" y="1110" textLength="345" lengthAdjust="spacingAndGlyphs">of epochs is bounded by some constant times</text>
<text x="1185" y="1131"><tspan font-style="italic">SA</tspan> log(<tspan font-style="italic">nT</tspan>).</text>
</g>
</svg>
</body></html>
